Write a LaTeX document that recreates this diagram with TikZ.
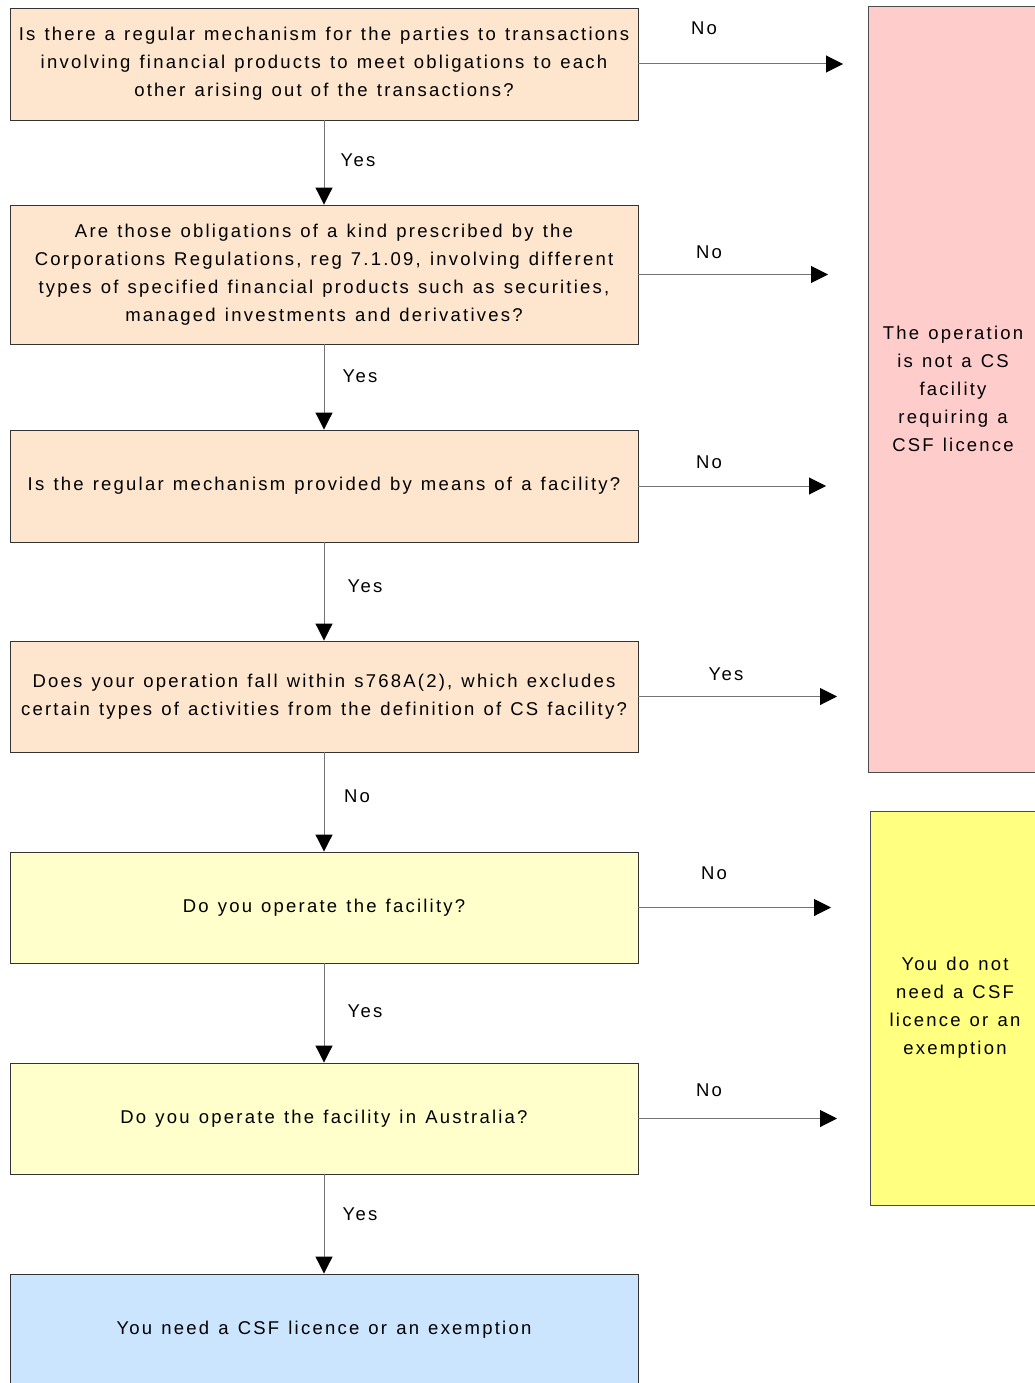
\documentclass[tikz,border=0pt]{standalone}
\usepackage{fontspec}
\setmainfont[LetterSpace=12]{Liberation Sans}
\usetikzlibrary{arrows.meta}

\definecolor{peach}{RGB}{253,229,206}
\definecolor{paleyellow}{RGB}{255,255,204}
\definecolor{paleblue}{RGB}{204,229,255}
\definecolor{palepink}{RGB}{255,204,204}
\definecolor{brightyellow}{RGB}{255,255,128}

\tikzset{
  every node/.append style={execute at begin node={\spaceskip=\dimexpr\fontdimen2\font+1.8pt\relax}},
  qbox/.style={draw=black!80, line width=0.9, minimum width=628, text width=626, align=center, inner sep=0},
  endbox/.style={draw=black!70, line width=0.9, minimum width=170, text width=168, align=center, inner sep=0},
  flow/.style={draw=black!55, line width=1, -{Triangle[length=17,width=17,fill=black,color=black]}},
  lbl/.style={inner sep=0},
}

\begin{document}
\fontsize{18.5}{28}\selectfont
\begin{tikzpicture}[x=1pt,y=1pt,yscale=-1,xscale=1]
\useasboundingbox (0,0) rectangle (1034,1383);

%Result boxes on the right
\node [endbox, fill=palepink, minimum height=766] (notcs) at (953,389) {The operation\\ is not a CS\\ facility\\ requiring a\\ CSF licence};
\node [endbox, fill=brightyellow, minimum height=394] (noneed) at (955,1008) {You do not\\ need a CSF\\ licence or an\\ exemption};

%Question boxes
\node [qbox, fill=peach, minimum height=112] (q1) at (324,64) {Is there a regular mechanism for the parties to transactions\\ involving financial products to meet obligations to each\\ other arising out of the transactions?};
\node [qbox, fill=peach, minimum height=139] (q2) at (324,274.5) {Are those obligations of a kind prescribed by the\\ Corporations Regulations, reg 7.1.09, involving different\\ types of specified financial products such as securities,\\ managed investments and derivatives?};
\node [qbox, fill=peach, minimum height=112] (q3) at (324,486) {Is the regular mechanism provided by means of a facility?};
\node [qbox, fill=peach, minimum height=111] (q4) at (324,696.5) {Does your operation fall within s768A(2), which excludes\\ certain types of activities from the definition of CS facility?};
\node [qbox, fill=paleyellow, minimum height=111] (q5) at (324,907.5) {Do you operate the facility?};
\node [qbox, fill=paleyellow, minimum height=111] (q6) at (324,1118.5) {Do you operate the facility in Australia?};
\node [qbox, fill=paleblue, minimum height=112] (res) at (324,1330) {You need a CSF licence or an exemption};

%Arrow ends
\coordinate (e1) at (843,64);
\coordinate (e2) at (828,274.5);
\coordinate (e3) at (826,486);
\coordinate (e4) at (837,696.5);
\coordinate (e5) at (831,907.5);
\coordinate (e6) at (837,1118.5);

%Down arrows
\draw [flow] (q1) -- (q2);
\draw [flow] (q2) -- (q3);
\draw [flow] (q3) -- (q4);
\draw [flow] (q4) -- (q5);
\draw [flow] (q5) -- (q6);
\draw [flow] (q6) -- (res);

%Side arrows
\draw [flow] (q1.east) -- (e1);
\draw [flow] (q2.east) -- (e2);
\draw [flow] (q3.east) -- (e3);
\draw [flow] (q4.east) -- (e4);
\draw [flow] (q5.east) -- (e5);
\draw [flow] (q6.east) -- (e6);

% Text Node
\node [lbl] (y1) at (358,160) {Yes};
\node [lbl] (y2) at (360,376) {Yes};
\node [lbl] (y3) at (365,586) {Yes};
\node [lbl] (n4) at (357,796) {No};
\node [lbl] (y5) at (365,1011) {Yes};
\node [lbl] (y6) at (360,1214) {Yes};
% Text Node
\node [lbl] (n1) at (704,28) {No};
\node [lbl] (n2) at (709,252) {No};
\node [lbl] (n3) at (709,462) {No};
\node [lbl] (y4) at (726,674) {Yes};
\node [lbl] (n5) at (714,873) {No};
\node [lbl] (n6) at (709,1090) {No};

\end{tikzpicture}
\end{document}
